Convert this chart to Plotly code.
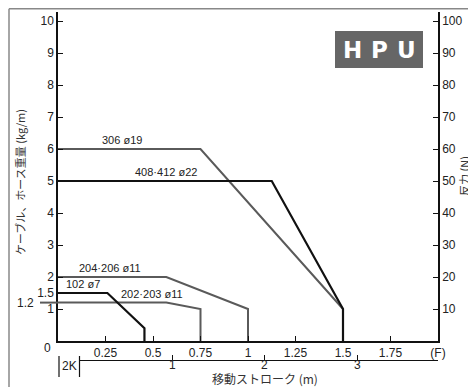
import plotly.graph_objects as go

# ---------------- data ----------------
s306_x = [0, 0.75, 1.5]
s306_y = [6, 6, 1]
s408_x = [0, 1.125, 1.5, 1.5]
s408_y = [5, 5, 1, 0]
s204_x = [0, 0.57, 1.0, 1.0]
s204_y = [2, 2, 1, 0]
s102_x = [0, 0.26, 0.455, 0.455]
s102_y = [1.5, 1.5, 0.4, 0]
s202_x = [0, 0.57, 0.75, 0.75]
s202_y = [1.2, 1.2, 1.0, 0]

series_names = ["306 ø19", "408·412 ø22", "204·206 ø11", "102 ø7", "202·203 ø11"]
label_x = [0.337, 0.568, 0.274, 0.13, 0.495]

x_tickvals = [0.25, 0.5, 0.75, 1, 1.25, 1.5, 1.75, 2.0]
x_ticktext = ["0.25", "0.5", "0.75", "1", "1.25", "1.5", "1.75", "(F)"]
y_tickvals = [1, 1.5, 2, 3, 4, 5, 6, 7, 8, 9, 10]
y_ticktext = ["1", "1.5", "2", "3", "4", "5", "6", "7", "8", "9", "10"]
y2_tickvals = [10, 20, 30, 40, 50, 60, 70, 80, 90, 100]
stroke_tickvals = [1, 2, 3]

# ---------------- geometry (page pixels; page body has 8px margin) ----------------
OFF = 8
W, H = 476 - OFF, 387 - OFF
PLOT_L, PLOT_R, PLOT_T, PLOT_B = 58, 438, 12, 341
ML = PLOT_L - OFF
MR = W - (PLOT_R - OFF)
MT = PLOT_T - OFF
MB = 8
PW = W - ML - MR
PH = H - MT - MB
Y_DOM0 = (H - MB - (PLOT_B - OFF)) / PH
YMAX = (PLOT_B - PLOT_T) / 32.0


def px(xp):  # page pixel x -> paper
    return (xp - OFF - ML) / PW


def py(yp):  # page pixel y -> paper
    return (H - MB - (yp - OFF)) / PH


FONT = "Liberation Sans, Arial, sans-serif"
JFONT = "Noto Sans CJK JP, Liberation Sans, sans-serif"
GREY = "#5a5a5a"
BLACK = "#111111"

fig = go.Figure()

traces = [
    (s306_x, s306_y, GREY, 2.0),
    (s204_x, s204_y, GREY, 2.0),
    (s202_x, s202_y, GREY, 2.0),
    (s408_x, s408_y, BLACK, 2.2),
    (s102_x, s102_y, BLACK, 2.2),
]
for xs, ys, c, w in traces:
    fig.add_trace(go.Scatter(x=xs, y=ys, mode="lines",
                             line=dict(color=c, width=w),
                             showlegend=False, hoverinfo="skip"))

# dummy traces to activate secondary axes
fig.add_trace(go.Scatter(x=[None], y=[None], yaxis="y2", showlegend=False, hoverinfo="skip"))
fig.add_trace(go.Scatter(x=[None], y=[None], xaxis="x2", showlegend=False, hoverinfo="skip"))

label_y = [s306_y[0], s408_y[0], s204_y[0], s102_y[0], s202_y[0]]
annotations = []
for name, lx, ly in zip(series_names, label_x, label_y):
    annotations.append(dict(x=lx, y=ly, xref="x", yref="y", text=name, showarrow=False,
                            xanchor="center", yanchor="bottom", yshift=1,
                            font=dict(family=FONT, size=11, color="#222")))


def ptxt(x, y, text, size=12, family=FONT, color="#222", angle=0, xanchor="center"):
    return dict(x=px(x), y=py(y), xref="paper", yref="paper", text=text, showarrow=False,
                xanchor=xanchor, yanchor="middle", textangle=angle, borderpad=0,
                font=dict(family=family, size=size, color=color))


# stroke axis tick labels (positioned through the x2 scale)
for v in stroke_tickvals:
    annotations.append(dict(x=v, y=py(364.5), xref="x2", yref="paper", text=str(v),
                            showarrow=False, xanchor="center", yanchor="middle", borderpad=0,
                            font=dict(family=FONT, size=12, color="#222")))

# corner labels
annotations.append(ptxt(47, 348, "0"))
annotations.append(dict(x=px(36), y=s202_y[0], xref="paper", yref="y", text="1.2",
                        showarrow=False, xanchor="right", yanchor="middle",
                        font=dict(family=FONT, size=12, color="#222")))
# axis titles
annotations.append(ptxt(20, 182, "ケーブル、ホース重量 (kg/m)", size=11, family=JFONT,
                        color="#333", angle=-90))
annotations.append(ptxt(464, 176, "反力 (N)", size=11, family=JFONT, color="#333", angle=-90))
annotations.append(ptxt(265, 378.5, "移動ストローク (m)", size=12, family=JFONT, color="#333"))
# 2K
annotations.append(ptxt(69, 366, "2K"))
# HPU badge letters
for ch, cx in zip("HPU", [352.5, 379, 406.5]):
    annotations.append(ptxt(cx, 49.5, "<b>%s</b>" % ch, size=23,
                            family="DejaVu Sans, sans-serif", color="white"))

shapes = [
    # outer frame (top and left)
    dict(type="line", xref="paper", yref="paper", x0=px(9), x1=px(480), y0=py(8.8), y1=py(8.8),
         line=dict(color="#888", width=1.5)),
    dict(type="line", xref="paper", yref="paper", x0=px(9), x1=px(9), y0=py(8.8), y1=py(390),
         line=dict(color="#888", width=1.5)),
    # HPU badge
    dict(type="rect", xref="paper", yref="paper", x0=px(335), x1=px(423), y0=py(68), y1=py(31),
         fillcolor="#666666", line=dict(width=0), layer="below"),
    # leader line for 1.2
    dict(type="line", xref="paper", yref="y", x0=px(40), x1=0, y0=s202_y[0], y1=s202_y[0],
         line=dict(color=GREY, width=2)),
    # 2K bracket
    dict(type="line", xref="paper", yref="paper", x0=px(59), x1=px(59), y0=py(356), y1=py(377),
         line=dict(color=BLACK, width=1.2)),
    dict(type="line", xref="paper", yref="paper", x0=px(79.5), x1=px(79.5), y0=py(356), y1=py(377),
         line=dict(color=BLACK, width=1.2)),
]

STROKE_X0 = 79.5
STROKE_PER_M = 92.5

fig.update_layout(
    width=W, height=H,
    margin=dict(l=ML, r=MR, t=MT, b=MB, autoexpand=False),
    paper_bgcolor="white", plot_bgcolor="rgba(0,0,0,0)",
    showlegend=False,
    font=dict(family=FONT, size=12, color="#222"),
    xaxis=dict(range=[0, 2.0], domain=[0, 1], anchor="y", showgrid=False, zeroline=False,
               showline=True, linecolor=BLACK, linewidth=1.5,
               ticks="inside", ticklen=5, tickcolor=BLACK,
               tickvals=x_tickvals, ticktext=x_ticktext, tickfont=dict(size=12)),
    yaxis=dict(range=[0, YMAX], domain=[Y_DOM0, 1], anchor="x", showgrid=False, zeroline=False,
               showline=True, linecolor=BLACK, linewidth=1.5,
               ticks="inside", ticklen=5, tickcolor=BLACK,
               tickvals=y_tickvals, ticktext=y_ticktext, tickfont=dict(size=12)),
    yaxis2=dict(range=[0, YMAX * 10], overlaying="y", side="right", anchor="x",
                showgrid=False, zeroline=False,
                showline=True, linecolor=BLACK, linewidth=1.5,
                ticks="inside", ticklen=5, tickcolor=BLACK,
                tickvals=y2_tickvals, tickfont=dict(size=12)),
    xaxis2=dict(range=[0, (PLOT_R - STROKE_X0) / STROKE_PER_M],
                domain=[px(STROKE_X0), 1], anchor="free", position=py(360),
                showgrid=False, zeroline=False,
                showline=True, linecolor=BLACK, linewidth=1.2,
                ticks="inside", ticklen=5, tickcolor=BLACK,
                tickvals=stroke_tickvals, showticklabels=False),
    annotations=annotations,
    shapes=shapes,
)

fig.write_html("out.html")
